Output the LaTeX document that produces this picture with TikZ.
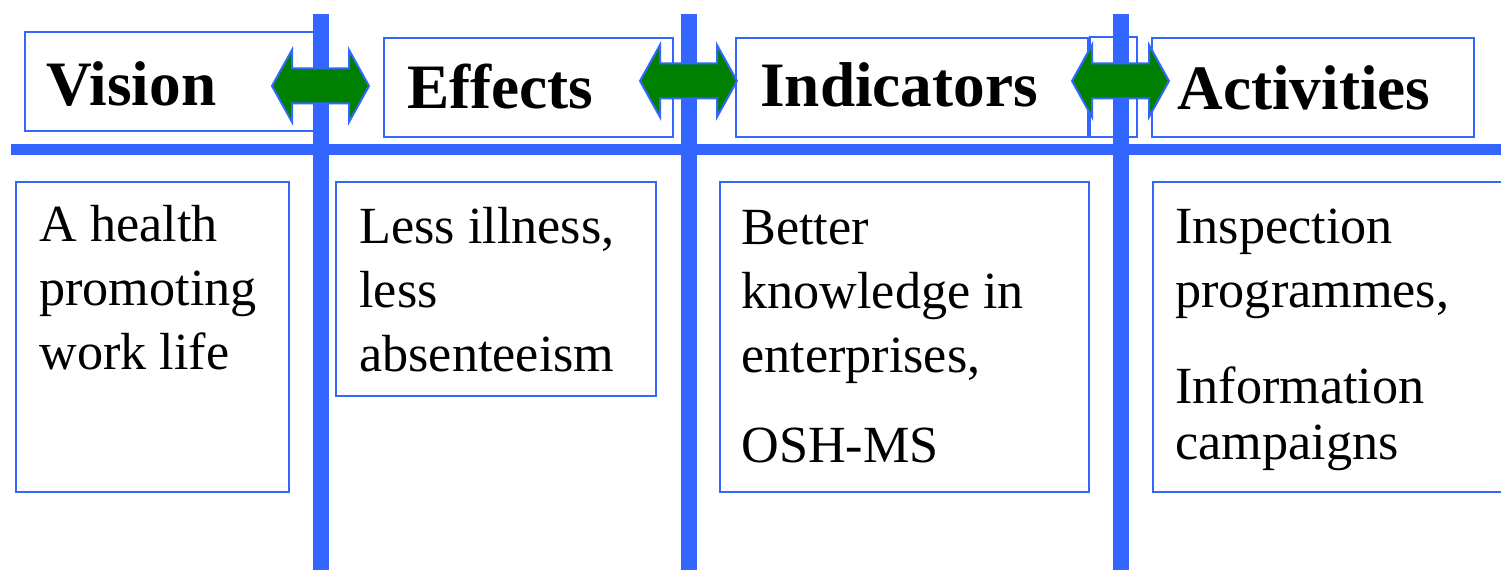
\documentclass[tikz,border=0pt]{standalone}
\usepackage{fontspec}
\setmainfont{Liberation Serif}
\definecolor{barblue}{RGB}{51,102,255}
\definecolor{arrowgreen}{RGB}{0,128,0}
% two-headed block arrow, centred on #1
\newcommand\twoway[1]{\draw[line width=0.4mm,draw=barblue,fill=arrowgreen,shift={#1}]
  (-48.5,0) -- (-28.5,-36) -- (-28.5,-17.5) -- (28.5,-17.5) -- (28.5,-36) -- (48.5,0)
  -- (28.5,36) -- (28.5,17.5) -- (-28.5,17.5) -- (-28.5,36) -- cycle;}

\begin{document}
\begin{tikzpicture}[x=0.2mm,y=-0.2mm,
  box/.style={draw=barblue,line width=0.4mm,anchor=north west,inner sep=0pt,outer sep=0pt},
  head/.style={anchor=base west,inner sep=0pt,font=\fontsize{36}{40}\selectfont\bfseries},
  body/.style={anchor=base west,inner sep=0pt,align=left,font=\fontsize{29.7}{36.6}\selectfont}]
\useasboundingbox (0,0) rectangle (1501,570);
\clip (0,0) rectangle (1501,570);
\node[box,minimum width=60mm,minimum height=19.8mm] (vistop) at (25,32) {};
\node[box,minimum width=57.8mm,minimum height=19.8mm] (efftop) at (384,38) {};
\node[box,minimum width=70.4mm,minimum height=19.8mm] (indtop) at (736,38) {};
\node[box,minimum width=9.4mm,minimum height=20mm] (gaptop) at (1090,37) {};
\node[box,minimum width=64.4mm,minimum height=19.8mm] (acttop) at (1152,38) {};
\node[box,minimum width=54.6mm,minimum height=62mm] (visbot) at (16,182) {};
\node[box,minimum width=64mm,minimum height=42.8mm] (effbot) at (336,182) {};
\node[box,minimum width=73.8mm,minimum height=62mm] (indbot) at (720,182) {};
\node[box,minimum width=80mm,minimum height=62mm] (actbot) at (1153,182) {};
\draw[barblue,line width=2.2mm] (11,150) -- (1510,150);
\draw[barblue,line width=3.2mm] (321,14) -- (321,580);
\draw[barblue,line width=3.2mm] (688.5,14) -- (688.5,580);
\draw[barblue,line width=3.2mm] (1121,14) -- (1121,580);
\twoway{(320.5,86)}
\twoway{(688.5,81)}
\twoway{(1120.5,81)}
\node[head] (vision) at (46,106) {Vision};
\node[head] (effects) at (407,109) {Effects};
\node[head] (indicators) at (760,107) {Indicators};
\node[head] (activities) at (1177,110) {Activities};
% base is the last line here
\node[body] (vistext) at (39,370) {A health\\promoting\\work life};
\node[body] (efftext) at (359,372) {Less illness,\\less\\absenteeism};
\node[body] (indtext) at (741,463) {Better\\knowledge in\\enterprises,\\[14.7pt]OSH-MS};
\node[body] (acttext) at (1175,460) {Inspection\\programmes,\\[18pt]Information\\[-4.5pt]campaigns};
\end{tikzpicture}
\end{document}
